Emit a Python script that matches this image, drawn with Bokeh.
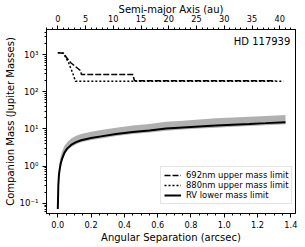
from bokeh.plotting import figure
from bokeh.models import (Range1d, LinearAxis, FixedTicker, SingleIntervalTicker,
                          NumeralTickFormatter, Label, Legend, LegendItem)
from bokeh.embed import file_html
from bokeh.resources import INLINE

# ---- data ----
sep_rv = [0.0, 0.003, 0.007, 0.012, 0.018, 0.026, 0.04, 0.056, 0.08, 0.11, 0.14, 0.2,
          0.26, 0.35, 0.45, 0.55, 0.65, 0.75, 0.85, 0.95, 1.05, 1.15, 1.25, 1.368]
mass_rv = [0.07, 0.3, 0.6, 0.86, 1.2, 1.6, 2.3, 2.95, 3.7, 4.4, 4.95, 5.7,
           6.3, 7.3, 8.3, 9.1, 10.2, 10.9, 11.6, 12.3, 13.0, 13.6, 14.3, 15.2]
band_upper = [0.09, 0.45, 0.95, 1.4, 1.9, 2.5, 3.5, 4.4, 5.5, 6.5, 7.3, 8.4,
              9.3, 10.8, 12.4, 13.6, 15.5, 16.6, 17.8, 19.2, 20.3, 21.2, 22.3, 23.5]
band_lower = [0.06, 0.26, 0.52, 0.75, 1.05, 1.4, 2.0, 2.6, 3.25, 3.85, 4.35, 5.0,
              5.5, 6.4, 7.3, 8.0, 8.9, 9.6, 10.2, 10.8, 11.4, 12.0, 12.6, 13.3]

sep_692 = [0.0, 0.034, 0.052, 0.076, 0.136, 0.142, 0.449, 0.461, 1.308]
mass_692 = [1120, 1080, 830, 610, 370, 290, 290, 197, 197]

sep_880 = [0.0, 0.034, 0.064, 0.088, 0.106, 1.356]
mass_880 = [1120, 1080, 610, 330, 192, 192]

log_ticks = [0.1, 1, 10, 100, 1000]
log_tick_labels = ["10\u207b\u00b9", "10\u2070", "10\u00b9", "10\u00b2", "10\u00b3"]
distance_pc = 30.0
star_name = "HD 117939"

FONT = "DejaVu Sans"

x0, x1 = -0.068, 1.428
p = figure(width=305, height=247, output_backend="svg", toolbar_location=None,
           y_axis_type="log",
           x_range=Range1d(x0, x1), y_range=Range1d(0.0532, 4700),
           min_border_left=46, min_border_right=10,
           min_border_top=29, min_border_bottom=34)
p.background_fill_color = "white"
p.border_fill_color = "white"
p.outline_line_color = "black"
p.outline_line_width = 1
p.xgrid.visible = False
p.ygrid.visible = False

p.extra_x_ranges = {"au": Range1d(x0 * distance_pc, x1 * distance_pc)}
top_axis = LinearAxis(x_range_name="au", axis_label="Semi-major Axis (au)",
                      ticker=SingleIntervalTicker(interval=5, num_minor_ticks=5))
p.add_layout(top_axis, "above")

bottom_axis = p.below[0]
left_axis = p.left[0]
bottom_axis.axis_label = "Angular Separation (arcsec)"
left_axis.axis_label = "Companion Mass (Jupiter Masses)"
bottom_axis.ticker = SingleIntervalTicker(interval=0.2, num_minor_ticks=4)
bottom_axis.formatter = NumeralTickFormatter(format="0.0")

minor = [k * 10.0 ** e for e in range(-2, 4) for k in range(2, 10)]
left_axis.ticker = FixedTicker(ticks=log_ticks, minor_ticks=minor)
left_axis.major_label_overrides = dict(zip(log_ticks, log_tick_labels))

for ax in [top_axis, bottom_axis, left_axis]:
    ax.axis_line_color = "black"
    ax.axis_line_width = 1
    ax.major_tick_line_color = "black"
    ax.minor_tick_line_color = "black"
    ax.major_tick_in = 0
    ax.major_tick_out = 4
    ax.minor_tick_in = 0
    ax.minor_tick_out = 2
    ax.major_label_text_font = FONT
    ax.major_label_text_font_size = "8.2px"
    ax.major_label_text_color = "black"
    ax.axis_label_text_font = FONT
    ax.axis_label_text_font_size = "10px"
    ax.axis_label_text_font_style = "normal"
    ax.axis_label_text_color = "black"
top_axis.major_label_standoff = 4
top_axis.axis_label_standoff = -3
bottom_axis.major_label_standoff = 3
bottom_axis.axis_label_standoff = 1
left_axis.major_label_text_font_size = "8.6px"
left_axis.major_label_standoff = 4
left_axis.axis_label_standoff = 1

# ---- glyphs ----
p.varea(x=sep_rv, y1=band_lower, y2=band_upper, fill_color="#b0b0b0", fill_alpha=1.0)
r692 = p.line(sep_692, mass_692, line_color="black", line_width=1.5, line_dash="6 2")
r880 = p.line(sep_880, mass_880, line_color="black", line_width=1.5, line_dash="2 2")
rrv = p.line(sep_rv, mass_rv, line_color="black", line_width=2)

legend = Legend(items=[LegendItem(label="692nm upper mass limit", renderers=[r692]),
                       LegendItem(label="880nm upper mass limit", renderers=[r880]),
                       LegendItem(label="RV lower mass limit", renderers=[rrv])],
                location=(114, 9))
legend.label_text_font = FONT
legend.label_text_font_size = "8.4px"
legend.label_text_color = "black"
legend.label_height = 10
legend.glyph_height = 10
legend.glyph_width = 17
legend.label_standoff = 5
legend.spacing = 0
legend.padding = 3
legend.margin = 0
legend.border_line_color = "#cccccc"
legend.border_line_width = 1
legend.background_fill_alpha = 0.85
p.add_layout(legend, "center")

p.add_layout(Label(x=1.397, y=2300, text=star_name,
                   text_align="right", text_baseline="alphabetic",
                   text_font=FONT, text_font_size="10px", text_color="black"))

open("out.html", "w").write(file_html(p, INLINE))
